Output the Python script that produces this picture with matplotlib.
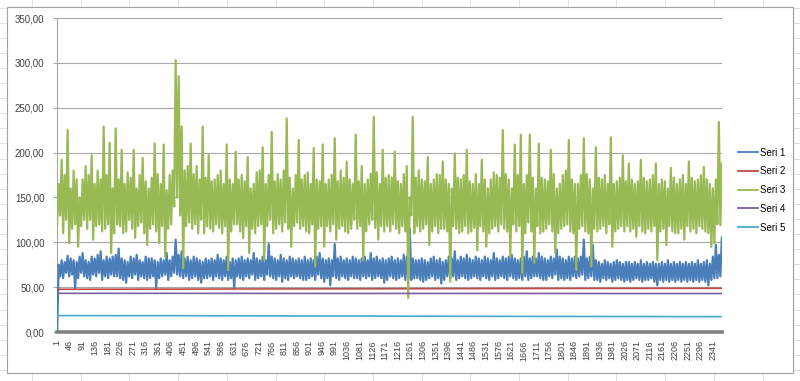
import numpy as np
import matplotlib
matplotlib.use("Agg")
import matplotlib.pyplot as plt
from matplotlib.lines import Line2D
from matplotlib.patches import Rectangle

plt.rcParams['font.family'] = ['Liberation Sans', 'DejaVu Sans']

# number of categories on the x axis
n_points = 2373
tick_step = 45

# Seri 3 (green): lower and upper edge of the noise band, left to right
seri3_lo = [
    120, 130, 110, 125, 99, 115, 120, 95, 118, 125,
    115, 125, 103, 118, 120, 112, 115, 120, 88, 110,
    120, 118, 110, 112, 125, 115, 105, 118, 122, 110,
    97, 115, 120, 112, 99, 118, 84, 115, 120, 140,
    150, 130, 71, 118, 122, 115, 120, 110, 125, 110,
    118, 115, 112, 120, 116, 110, 118, 69, 112, 120,
    120, 112, 105, 118, 88, 115, 110, 118, 120, 80,
    118, 125, 110, 115, 120, 112, 122, 115, 95, 118,
    122, 115, 118, 112, 110, 120, 73, 115, 118, 95,
    118, 112, 120, 103, 115, 118, 112, 110, 115, 125,
    115, 118, 80, 112, 120, 125, 116, 103, 118, 112,
    118, 112, 120, 115, 110, 118, 112, 38, 130, 110,
    118, 112, 115, 120, 97, 112, 118, 110, 115, 115,
    112, 56, 118, 115, 110, 112, 118, 110, 112, 116,
    91, 118, 112, 95, 110, 115, 118, 112, 120, 115,
    112, 84, 120, 112, 118, 66, 110, 122, 112, 77,
    118, 110, 112, 115, 120, 112, 88, 110, 115, 118,
    120, 112, 110, 69, 115, 118, 112, 110, 73, 115,
    112, 115, 118, 110, 120, 95, 112, 115, 118, 112,
    118, 112, 115, 106, 118, 112, 110, 115, 112, 118,
    80, 112, 115, 97, 118, 112, 110, 110, 115, 103,
    118, 112, 115, 110, 118, 115, 112, 110, 95, 99,
    120, 119,
]
seri3_hi = [
    165, 192, 175, 225, 160, 180, 170, 150, 170, 185,
    175, 197, 165, 180, 170, 229, 175, 211, 160, 227,
    170, 203, 165, 178, 172, 203, 160, 175, 194, 168,
    160, 172, 210, 176, 165, 209, 158, 175, 180, 303,
    285, 229, 180, 185, 210, 176, 185, 170, 229, 172,
    197, 168, 170, 175, 180, 165, 209, 170, 165, 201,
    170, 175, 168, 195, 160, 165, 178, 180, 206, 165,
    175, 223, 168, 176, 170, 180, 238, 172, 160, 175,
    214, 170, 175, 178, 165, 205, 170, 168, 209, 165,
    170, 175, 216, 168, 180, 172, 190, 170, 165, 220,
    168, 185, 165, 170, 176, 240, 178, 165, 203, 172,
    175, 172, 201, 168, 165, 176, 185, 150, 240, 172,
    180, 170, 168, 195, 165, 170, 176, 175, 190, 170,
    165, 160, 199, 172, 170, 175, 203, 168, 165, 176,
    165, 192, 170, 160, 170, 178, 175, 172, 225, 176,
    170, 160, 209, 175, 220, 165, 175, 220, 172, 160,
    210, 172, 170, 168, 203, 176, 160, 165, 175, 180,
    214, 170, 165, 165, 175, 216, 176, 170, 160, 206,
    172, 170, 175, 165, 217, 165, 168, 172, 197, 168,
    188, 170, 165, 168, 192, 172, 168, 170, 175, 188,
    165, 170, 168, 160, 183, 172, 165, 170, 175, 165,
    190, 172, 168, 170, 175, 184, 170, 165, 160, 170,
    234, 188,
]

# Seri 1 (blue): lower and upper edge, starts at 0
seri1_lo = [
    0, 62, 60, 66, 62, 64, 49, 60, 66, 62,
    60, 58, 64, 62, 66, 58, 62, 60, 64, 62,
    62, 60, 58, 55, 62, 60, 64, 58, 62, 60,
    58, 60, 62, 49, 60, 62, 64, 58, 62, 66,
    64, 62, 60, 62, 58, 60, 62, 58, 55, 60,
    60, 62, 58, 62, 60, 58, 62, 58, 60, 49,
    62, 60, 58, 62, 60, 64, 58, 60, 62, 58,
    64, 62, 60, 58, 62, 56, 60, 58, 62, 60,
    62, 60, 58, 58, 60, 62, 58, 64, 60, 56,
    60, 52, 62, 60, 58, 62, 60, 58, 62, 60,
    60, 58, 62, 60, 62, 58, 60, 62, 60, 55,
    58, 62, 60, 58, 60, 62, 58, 60, 58, 60,
    60, 58, 56, 58, 60, 62, 58, 60, 54, 58,
    62, 60, 62, 58, 60, 62, 60, 58, 60, 62,
    60, 58, 62, 60, 58, 62, 58, 60, 62, 60,
    58, 62, 60, 58, 60, 58, 62, 58, 60, 62,
    62, 60, 58, 58, 62, 60, 64, 58, 60, 58,
    60, 58, 62, 60, 62, 64, 58, 60, 62, 58,
    58, 56, 60, 58, 60, 56, 58, 60, 58, 56,
    58, 56, 58, 60, 58, 56, 58, 58, 60, 56,
    52, 58, 56, 58, 56, 58, 56, 58, 56, 58,
    56, 58, 56, 58, 56, 58, 56, 52, 58, 60,
    60, 62,
]
seri1_hi = [
    75, 80, 78, 85, 82, 80, 78, 84, 88, 80,
    78, 84, 82, 86, 90, 80, 84, 82, 84, 86,
    93, 82, 80, 78, 84, 82, 86, 80, 78, 84,
    82, 82, 80, 78, 82, 80, 88, 80, 84, 103,
    86, 90, 82, 84, 80, 84, 82, 80, 78, 82,
    80, 82, 80, 86, 82, 80, 84, 78, 82, 80,
    82, 84, 80, 82, 80, 88, 82, 80, 84, 80,
    98, 84, 82, 80, 86, 82, 80, 84, 82, 80,
    82, 80, 84, 80, 82, 80, 84, 88, 82, 80,
    82, 80, 98, 82, 84, 80, 82, 80, 84, 82,
    80, 82, 84, 80, 88, 82, 84, 80, 82, 80,
    82, 84, 80, 82, 80, 86, 84, 115, 82, 80,
    80, 82, 80, 78, 82, 84, 80, 82, 78, 80,
    84, 82, 90, 80, 84, 82, 86, 82, 80, 84,
    82, 80, 84, 82, 80, 88, 82, 80, 84, 82,
    84, 86, 82, 80, 82, 84, 90, 82, 84, 82,
    88, 84, 82, 80, 84, 82, 92, 84, 82, 80,
    84, 82, 84, 82, 84, 103, 82, 84, 97, 80,
    78, 76, 80, 78, 76, 78, 80, 78, 76, 78,
    78, 76, 78, 76, 80, 76, 78, 76, 78, 76,
    76, 78, 76, 80, 76, 78, 76, 78, 76, 78,
    76, 78, 76, 80, 76, 78, 80, 76, 84, 97,
    86, 105,
]

# flat series
seri2 = [47.6, 47.8, 48.0, 48.2, 48.4, 48.6, 48.7]
seri4 = [43.1, 43.1, 43.0, 43.0, 43.0, 42.9, 42.9]
seri5 = [18.3, 18.2, 18.2, 18.0, 17.9, 17.8, 17.6, 17.5, 17.4, 17.3, 17.2, 17.1]


def band(lo, hi):
    # walk lo, hi, lo, hi ... so the line fills the band like the dense original
    out = []
    for a, b in zip(lo, hi):
        out += [a, b]
    return out


series = [
    ("Seri 1", band(seri1_lo, seri1_hi), "#4a7ebb"),
    ("Seri 2", seri2, "#be4b48"),
    ("Seri 3", band(seri3_lo, seri3_hi), "#98b954"),
    ("Seri 4", seri4, "#7d60a0"),
    ("Seri 5", seri5, "#46aac5"),
]

W, H = 800, 381
fig = plt.figure(figsize=(W / 100, H / 100), dpi=100)
fig.patch.set_facecolor("white")

# worksheet cell grid behind the chart
for x in np.arange(32, W, 48.7):
    fig.add_artist(Line2D([x / W, x / W], [0, 1], color="#dadada", lw=0.6, zorder=0))
for y in np.arange(7.5, H, 15.1):
    fig.add_artist(Line2D([0, 1], [1 - y / H, 1 - y / H], color="#dadada", lw=0.6, zorder=0))

# chart area
fig.add_artist(Rectangle((7 / W, 1 - 373 / H), 786 / W, 366 / H, transform=fig.transFigure,
                         facecolor="white", edgecolor="#a0a0a0", lw=0.8, zorder=1))

ax = fig.add_axes([57 / W, 1 - 332 / H, 665 / W, 314 / H])
ax.set_zorder(3)
ax.patch.set_alpha(0)

for i, (name, vals, col) in enumerate(series):
    xs = np.linspace(1, n_points, len(vals))
    lw = 1.6 if len(vals) > 20 else 1.2
    ax.plot(xs, vals, color=col, lw=lw, label=name, zorder=3 + i)

ax.set_xlim(0.5, n_points + 0.5)
ax.set_ylim(0, 350)

yt = np.arange(0, 351, 50)
ax.set_yticks(yt)
ax.set_yticklabels([f"{v:.2f}".replace(".", ",") for v in yt], fontsize=7, color="#404040")
xt = list(range(1, n_points + 1, tick_step))
ax.set_xticks(xt)
ax.set_xticklabels([str(v) for v in xt], rotation=90, fontsize=6.5, color="#404040")

ax.grid(axis="y", color="#a6a6a6", lw=0.8)
ax.set_axisbelow(True)
ax.tick_params(axis="x", length=0, pad=6)
ax.tick_params(axis="y", length=3, color="#a6a6a6", pad=6)
for s in ["top", "right"]:
    ax.spines[s].set_visible(False)
ax.spines["left"].set_color("#a6a6a6")
ax.spines["left"].set_linewidth(0.8)
ax.spines["bottom"].set_color("#808080")
ax.spines["bottom"].set_linewidth(2.6)

handles = [Line2D([], [], color=c, lw=1.3) for _, _, c in series]
fig.legend(handles, [s[0] for s in series], loc="center left",
           bbox_to_anchor=(738 / W, 1 - 190 / H), bbox_transform=fig.transFigure,
           frameon=False, fontsize=7, handlelength=2.1, handletextpad=0.2,
           labelspacing=0.9, borderpad=0, borderaxespad=0)

fig.savefig("out.png", dpi=100)
